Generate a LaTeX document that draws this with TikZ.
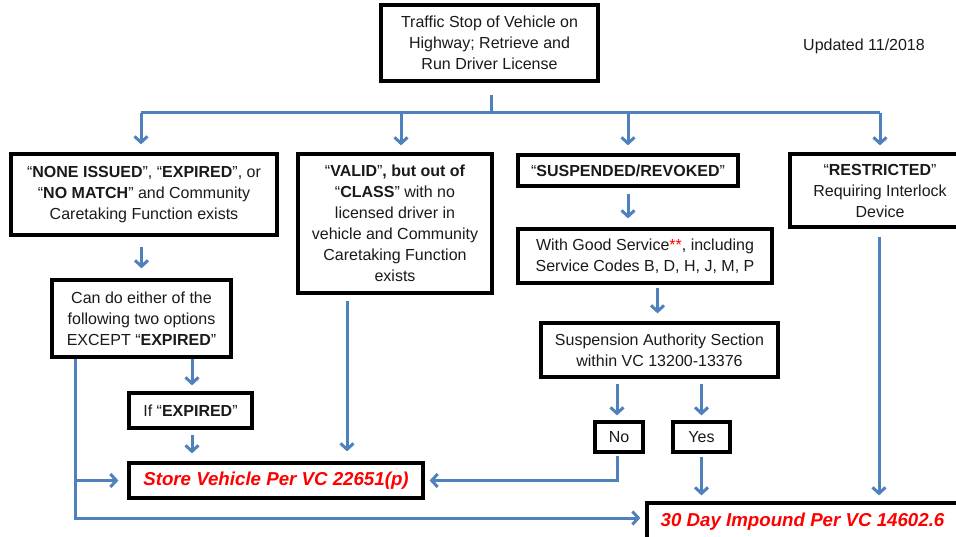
\documentclass[tikz,border=0pt]{standalone}
\usepackage{fontspec}
\setmainfont{Liberation Sans}
\usetikzlibrary{arrows.meta}
\definecolor{flowblue}{HTML}{4F81BD}
\definecolor{txt}{HTML}{1A1A1A}
\definecolor{alertred}{HTML}{FF0000}
\begin{document}
\begin{tikzpicture}[x=1pt,y=-1pt,
  box/.style={draw=black, line width=3.2pt, fill=white, inner sep=0pt, align=center,
    text=txt, font=\fontsize{16}{21}\selectfont},
  redtext/.style={text=alertred, font=\fontsize{18.7}{22}\selectfont\bfseries\itshape},
  flow/.style={draw=flowblue, line width=3pt},
  arr/.style={flow, -{Straight Barb[length=6pt,width=13pt]}}
]
\useasboundingbox (0,0) rectangle (956,537);

% nodes
\node[box, minimum width=217pt, minimum height=76pt] (top) at (489.5,43)
  {Traffic Stop of Vehicle on\\Highway; Retrieve and\\Run Driver License};
\node[text=txt, font=\fontsize{16}{21}\selectfont, inner sep=0pt] (upd) at (864,46) {Updated 11/2018};

\node[box, minimum width=266pt, minimum height=81pt] (none) at (144,194.5)
  {“\textbf{NONE ISSUED}”, “\textbf{EXPIRED}”, or\\“\textbf{NO MATCH}” and Community\\Caretaking Function exists};
\node[box, minimum width=194pt, minimum height=139pt] (valid) at (395,223.5)
  {“\textbf{VALID}”\textbf{, but out of}\\“\textbf{CLASS}” with no\\licensed driver in\\vehicle and Community\\Caretaking Function\\exists};
\node[box, minimum width=220pt, minimum height=31pt] (susp) at (628,170.5)
  {“\textbf{SUSPENDED/REVOKED}”};
\node[box, minimum width=180pt, minimum height=73pt] (restricted) at (880,190.5)
  {“\textbf{RESTRICTED}”\\Requiring Interlock\\Device};
\node[box, minimum width=254pt, minimum height=54pt] (good) at (645,256)
  {With Good Service\textcolor{alertred}{**}, including\\Service Codes B, D, H, J, M, P};
\node[box, minimum width=237pt, minimum height=54pt] (auth) at (659.5,350)
  {Suspension Authority Section\\within VC 13200-13376};
\node[box, minimum width=179pt, minimum height=77pt] (cando) at (141.5,318.5)
  {Can do either of the\\following two options\\EXCEPT “\textbf{EXPIRED}”};
\node[box, minimum width=123pt, minimum height=35pt] (ifexp) at (190.5,410.5)
  {If “\textbf{EXPIRED}”};
\node[box, minimum width=294pt, minimum height=35pt, redtext] (store) at (276,480.5)
  {Store Vehicle Per VC 22651(p)};
\node[box, minimum width=48pt, minimum height=30pt] (no) at (619,437) {No};
\node[box, minimum width=57pt, minimum height=30pt] (yes) at (701.5,437) {Yes};
\node[box, minimum width=311pt, minimum height=38pt, redtext] (impound) at (802.5,522)
  {30 Day Impound Per VC 14602.6};

% bus
\coordinate (j1) at (141,113);
\coordinate (j2) at (401,113);
\coordinate (j3) at (628,113);
\coordinate (j4) at (880,113);
\draw[flow] ([xshift=2pt,yshift=-12pt]top.south) -- ([xshift=2pt]top.south |- j1);
\draw[flow] (j1) -- (j4);
\draw[arr, shorten >=8pt] (j1) -- (j1 |- none.north);
\draw[arr, shorten >=7pt] (j2) -- (j2 |- valid.north);
\draw[arr, shorten >=8pt] (j3) -- (susp.north);
\draw[arr, shorten >=7pt] (j4) -- (restricted.north);

% left column
\draw[arr, shorten <=10pt, shorten >=10pt] (cando.north |- none.south) -- (cando.north);
\coordinate (L) at ([xshift=25pt]cando.south west);
\draw[arr, shorten >=5pt] (L) |- ([yshift=4pt]impound.west);
\draw[arr, shorten >=9pt] (L |- store.west) -- (store.west);
\draw[arr, shorten >=6pt] ([xshift=1.5pt]ifexp.north |- cando.south) -- ([xshift=1.5pt]ifexp.north);
\draw[arr, shorten <=5pt, shorten >=8pt] ([xshift=1.5pt]ifexp.south) -- ([xshift=1.5pt]ifexp.south |- store.north);
\draw[arr, shorten <=6pt, shorten >=10pt] ([xshift=-48pt]valid.south) -- ([xshift=-48pt]valid.south |- store.north);

% right columns
\draw[arr, shorten <=6pt, shorten >=9pt] (susp.south) -- (susp.south |- good.north);
\draw[arr, shorten <=3pt, shorten >=8pt] ([xshift=-2pt]auth.north |- good.south) -- ([xshift=-2pt]auth.north);
\draw[arr, shorten <=5pt, shorten >=5pt] ([xshift=-2pt]no.north |- auth.south) -- ([xshift=-2pt]no.north);
\draw[arr, shorten <=5pt, shorten >=5pt] (yes.north |- auth.south) -- (yes.north);
\draw[arr, shorten >=5pt] ([xshift=-2pt,yshift=-2pt]no.south) |- (store.east);
\draw[arr, shorten <=3pt, shorten >=6pt] (yes.south) -- (yes.south |- impound.north);
\draw[arr, shorten <=8pt, shorten >=6pt] ([xshift=-1pt]restricted.south) -- ([xshift=-1pt]restricted.south |- impound.north);
\end{tikzpicture}
\end{document}
